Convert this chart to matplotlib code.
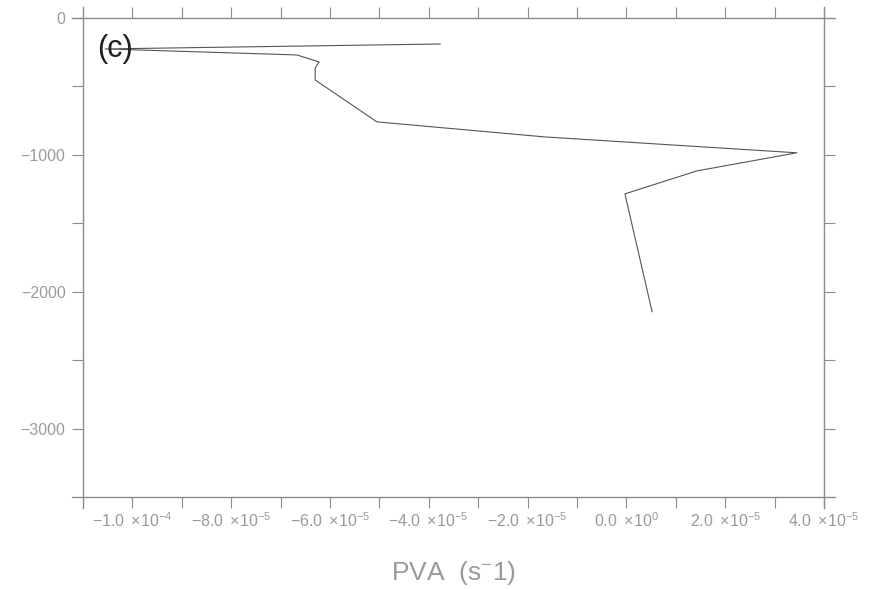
import matplotlib
matplotlib.use('Agg')
import matplotlib.pyplot as plt
from matplotlib.lines import Line2D
import numpy as np

# profile
pva = [-3.77e-5, -1.055e-4, -6.67e-5, -6.22e-5, -6.30e-5, -6.30e-5,
       -5.05e-5, -1.65e-5, 3.45e-5, 1.43e-5, -0.03e-5, 0.52e-5]
depth = [-190, -226, -270, -321, -365, -453,
         -759, -869, -985, -1117, -1285, -2146]

xticks = [-1.0e-4, -9.0e-5, -8.0e-5, -7.0e-5, -6.0e-5, -5.0e-5, -4.0e-5,
          -3.0e-5, -2.0e-5, -1.0e-5, 0.0, 1.0e-5, 2.0e-5, 3.0e-5, 4.0e-5]
xticklabels = [r'$-1.0\ \times\!10^{-4}$', '', r'$-8.0\ \times\!10^{-5}$', '',
               r'$-6.0\ \times\!10^{-5}$', '', r'$-4.0\ \times\!10^{-5}$', '',
               r'$-2.0\ \times\!10^{-5}$', '', r'$0.0\ \times\!10^{0}$', '',
               r'$2.0\ \times\!10^{-5}$', '', r'$4.0\ \times\!10^{-5}$']
yticks = [0, -500, -1000, -1500, -2000, -2500, -3000]
yticklabels = ['0', '', '\u22121000', '', '\u22122000', '', '\u22123000']

plt.rcParams['font.family'] = ['Liberation Sans', 'DejaVu Sans']
plt.rcParams['mathtext.fontset'] = 'custom'
plt.rcParams['mathtext.rm'] = 'Liberation Sans'
plt.rcParams['mathtext.it'] = 'Liberation Sans'
plt.rcParams['mathtext.default'] = 'rm'

axis_col = '#8c8c8c'
text_col = '#9a9a9a'

W, H = 877, 589
fig = plt.figure(figsize=(W / 100, H / 100), dpi=100)
x0, x1, y0, y1 = 83, 824, 18, 497
ax = fig.add_axes([x0 / W, 1 - y1 / H, (x1 - x0) / W, (y1 - y0) / H])

ax.plot(pva, depth, color='#555555', lw=0.8)

ax.set_xlim(-1.1e-4, 4.0e-5)
ax.set_ylim(-3500, 0)
ax.set_xticks(xticks)
ax.set_xticklabels(xticklabels)
ax.set_yticks(yticks)
ax.set_yticklabels(yticklabels)
ax.tick_params(direction='out', length=7.6, width=0.8, color=axis_col,
               labelcolor=text_col, labelsize=11.5, top=True, right=True)
ax.tick_params(axis='x', pad=3)
ax.tick_params(axis='y', pad=5)

# frame lines that run past the corners by one tick length
for s in ax.spines.values():
    s.set_visible(False)
ex = 11 / (x1 - x0)
ey = 11 / (y1 - y0)
for xs, ys in [([-ex, 1 + ex], [0, 0]), ([-ex, 1 + ex], [1, 1]),
               ([0, 0], [-ey, 1 + ey]), ([1, 1], [-ey, 1 + ey])]:
    ax.add_line(Line2D(xs, ys, transform=ax.transAxes, clip_on=False,
                       color=axis_col, lw=1.0))

fig.text(97 / W, 1 - 49 / H, '(c)', fontsize=22, color='#1e1e1e',
         ha='left', va='center')
fig.text((x0 + x1) / 2 / W, 1 - 573 / H, r'PVA  (s$^{-}$1)', fontsize=19,
         color=text_col, ha='center', va='center')

fig.savefig('out.png', dpi=100, facecolor='white')
